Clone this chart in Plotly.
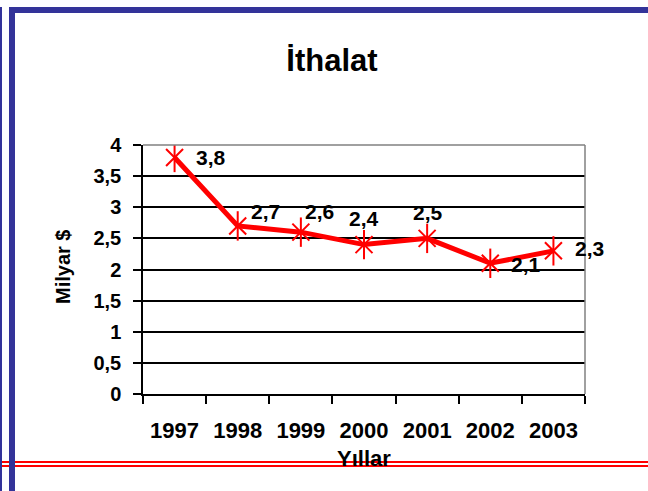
import plotly.graph_objects as go

# ---- data ----
years = ["1997", "1998", "1999", "2000", "2001", "2002", "2003"]
imports = [3.8, 2.7, 2.6, 2.4, 2.5, 2.1, 2.3]
y_ticks = [0, 0.5, 1, 1.5, 2, 2.5, 3, 3.5, 4]
y_tick_labels = ["0", "0,5", "1", "1,5", "2", "2,5", "3", "3,5", "4"]
title_text = "İthalat"
x_title = "Yıllar"
y_title = "Milyar $"

# ---- style ----
FONT = "Liberation Sans, Arial, sans-serif"
RED = "#FF0000"
BLUE = "#333399"
W, H = 648, 491
L, R, T, B = 143, 63, 145, 97
label_shift = [(36, 0), (28, 14), (19, 21), (0, 26), (1, 26), (36, -1), (36, 2)]

def px_x(p):
    return (p - L) / (W - L - R)

def px_y(p):
    return (H - B - p) / (H - T - B)

fig = go.Figure()
fig.add_trace(go.Scatter(
    x=years, y=imports, mode="lines",
    line=dict(color=RED, width=5), hoverinfo="skip", showlegend=False))
fig.add_trace(go.Scatter(
    x=years, y=imports, mode="markers",
    marker=dict(symbol="x-thin-open", size=17, color=RED,
                line=dict(color=RED, width=2)),
    showlegend=False))
fig.add_trace(go.Scatter(
    x=years, y=imports, mode="markers",
    marker=dict(symbol="line-ns-open", size=21, color=RED,
                line=dict(color=RED, width=2)),
    showlegend=False))

annotations = []
for i, (v, (dx, dy)) in enumerate(zip(imports, label_shift)):
    annotations.append(dict(
        x=i, y=v, xref="x", yref="y",
        text=f"{v:.1f}".replace(".", ","), showarrow=False,
        xanchor="center", yanchor="middle", xshift=dx, yshift=dy,
        font=dict(family=FONT, size=21, color="black", weight="bold")))

annotations.append(dict(
    x=px_x(364), y=px_y(458), xref="paper", yref="paper", text=x_title,
    showarrow=False, xanchor="center", yanchor="middle",
    font=dict(family=FONT, size=22, color="black", weight="bold")))
annotations.append(dict(
    x=px_x(63), y=px_y(267), xref="paper", yref="paper", text=y_title,
    showarrow=False, xanchor="center", yanchor="middle", textangle=-90,
    font=dict(family=FONT, size=20, color="black", weight="bold")))

shapes = []
# red double line near bottom
for yy in (462, 466):
    shapes.append(dict(type="line", xref="paper", yref="paper",
                       x0=px_x(0), x1=px_x(W), y0=px_y(yy), y1=px_y(yy),
                       line=dict(color=RED, width=2), layer="above"))
# blue frame
for (x0, x1, y0, y1) in [(9, W, 7, 13), (9, 15, 7, H), (0, 2, 7, H)]:
    shapes.append(dict(type="rect", xref="paper", yref="paper",
                       x0=px_x(x0), x1=px_x(x1), y0=px_y(y0), y1=px_y(y1),
                       fillcolor=BLUE, line=dict(width=0), layer="above"))
# plot area border (top/right gray)
shapes.append(dict(type="line", xref="paper", yref="paper", x0=0, x1=1, y0=1, y1=1,
                   line=dict(color="#808080", width=1.5), layer="above"))
shapes.append(dict(type="line", xref="paper", yref="paper", x0=1, x1=1, y0=0, y1=1,
                   line=dict(color="#808080", width=1.5), layer="above"))

fig.update_layout(
    width=W, height=H,
    margin=dict(l=L, r=R, t=T, b=B, autoexpand=False),
    paper_bgcolor="white", plot_bgcolor="white",
    title=dict(text=title_text, x=332 / W, xanchor="center",
               y=1 - 60 / H, yanchor="middle", yref="container",
               font=dict(family=FONT, size=31, color="black", weight="bold")),
    xaxis=dict(type="category", range=[-0.5, 6.5], tickson="boundaries",
               ticks="outside", ticklen=8, tickwidth=1.5, tickcolor="black",
               showline=True, linecolor="black", linewidth=1.5, showgrid=False,
               ticklabelstandoff=16, zeroline=False,
               tickfont=dict(family=FONT, size=22, color="black", weight="bold")),
    yaxis=dict(range=[0, 4], tickvals=y_ticks, ticktext=y_tick_labels,
               ticks="outside", ticklen=8, tickwidth=1.5, tickcolor="black",
               showline=True, linecolor="black", linewidth=1.5,
               showgrid=True, gridcolor="black", gridwidth=1.5, zeroline=False,
               ticklabelstandoff=8,
               tickfont=dict(family=FONT, size=20, color="black", weight="bold")),
    annotations=annotations, shapes=shapes, showlegend=False,
)

fig.write_html("out.html", config={"displayModeBar": False},
               post_script="document.body.style.margin='0';document.body.style.overflow='hidden';")
